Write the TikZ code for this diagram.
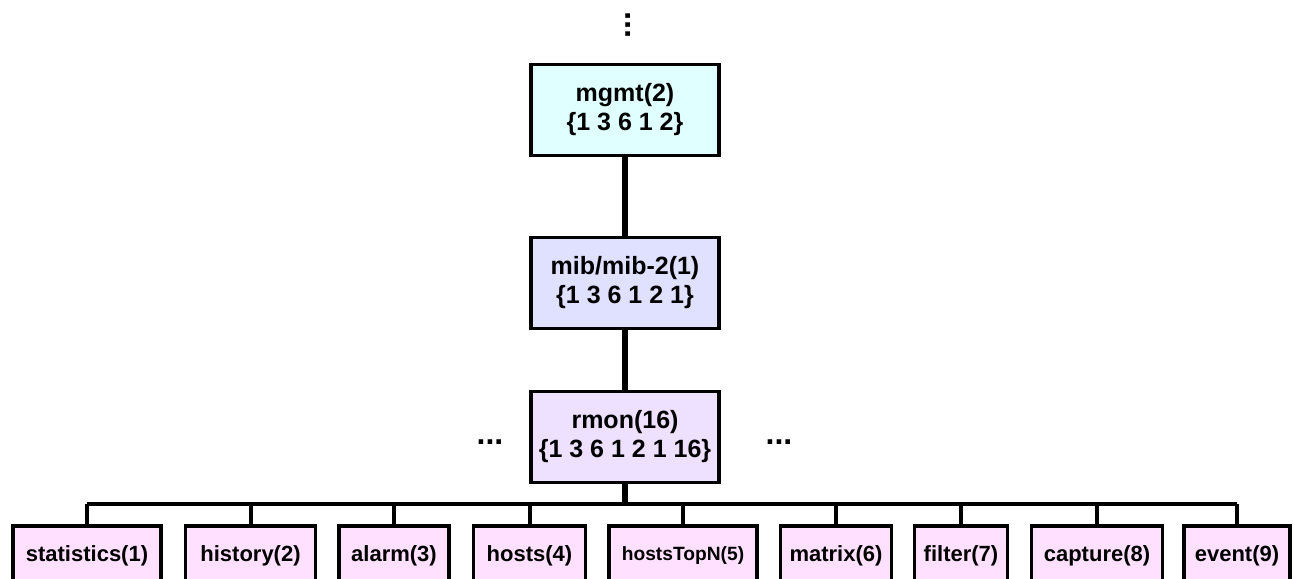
\documentclass[tikz,border=0pt]{standalone}
\usepackage{fontspec}
\setmainfont{Liberation Sans}
\usetikzlibrary{positioning}
\definecolor{mgmtfill}{RGB}{224,255,255}
\definecolor{mibfill}{RGB}{224,224,255}
\definecolor{rmonfill}{RGB}{238,224,255}
\definecolor{groupfill}{RGB}{255,224,255}
\tikzset{
  oid/.style={draw=black,line width=1.6pt,fill=#1,minimum width=94pt,
    minimum height=45.5pt,align=center,
    font=\fontsize{12.5}{14.5}\selectfont\bfseries},
  oid/.default=mgmtfill,
  group/.style={draw=black,line width=1.6pt,fill=groupfill,inner sep=0pt,
    minimum height=30pt,font=\fontsize{11}{12}\selectfont\bfseries},
  trunk/.style={line width=2.6pt},
  branch/.style={line width=2pt},
  more/.style={font=\fontsize{16}{16}\selectfont\bfseries,inner sep=0pt},
}

\begin{document}
\begin{tikzpicture}[x=0.5pt,y=-0.5pt]
  \clip (0,0) rectangle (1295,578);
  % OID path
  \node[more,rotate=90] (up) at (628,25) {...};
  \node[oid=mgmtfill] (mgmt) at (625,110) {mgmt(2)\\\{1 3 6 1 2\}};
  \node[oid=mibfill] (mib) at (625,283) {mib/mib-2(1)\\\{1 3 6 1 2 1\}};
  \node[oid=rmonfill] (rmon) at (625,437) {rmon(16)\\\{1 3 6 1 2 1 16\}};
  \node[more] (lmore) at (490,442) {...};
  \node[more] (rmore) at (779,442) {...};
  \coordinate (bus) at (625,504);
  \draw[trunk] (mgmt) -- (mib);
  \draw[trunk] (mib) -- (rmon);
  \draw[trunk] (rmon) -- (bus);
  % rmon groups
  \foreach \n/\t/\x/\w in {
    1/statistics(1)/87/74,
    2/history(2)/250.5/65,
    3/alarm(3)/394/55,
    4/hosts(4)/529.5/56,
    5/{\fontsize{9.6}{10}\selectfont hostsTopN(5)}/683/74,
    6/matrix(6)/836/55.5,
    7/filter(7)/961/46.5,
    8/capture(8)/1097/65.5,
    9/event(9)/1237/53}
  {
    \node[group,minimum width=\w pt] (g\n) at (\x,556) {\t};
  }
  \draw[branch] (bus -| g1) -- (bus -| g9);
  \foreach \n in {1,...,9}
    \draw[branch] (bus -| g\n) -- (g\n.north);
\end{tikzpicture}
\end{document}
